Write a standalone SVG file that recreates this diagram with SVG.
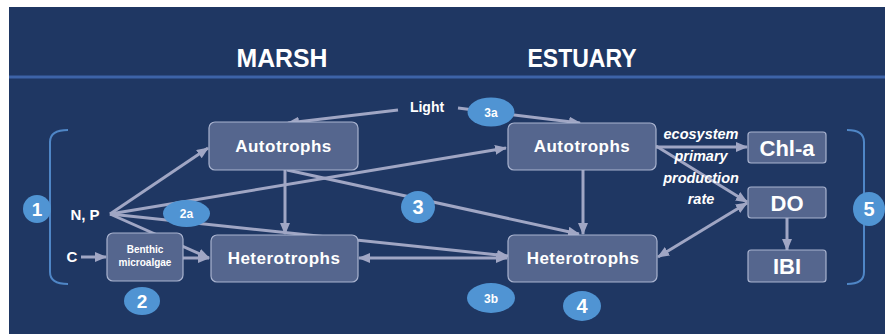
<svg xmlns="http://www.w3.org/2000/svg" width="885" height="334" viewBox="0 0 885 334">
<defs>
<style>
.bg{fill:#1f3763}
.box{fill:#55668e;stroke:#a9b3cf;stroke-width:1.2}
.lbl{font-family:"Liberation Sans",Arial,sans-serif;font-weight:bold;fill:#ffffff;text-anchor:middle}
.bt{font-size:17px;letter-spacing:0.5px}
.it{font-family:"Liberation Sans",Arial,sans-serif;font-weight:bold;font-style:italic;font-size:14.5px;fill:#ffffff;text-anchor:middle}
.num{fill:#5094d3}
.con line{stroke:#a0a6c4;stroke-width:3;fill:none;marker-end:url(#ah)}
.con line.dbl{marker-start:url(#ah)}
.br{fill:none;stroke:#4f86c6;stroke-width:2}
</style>
<marker id="ah" markerUnits="userSpaceOnUse" markerWidth="12" markerHeight="10" refX="11" refY="5" orient="auto-start-reverse">
<path d="M0,0 L12,5 L0,10 z" fill="#a0a6c4"/>
</marker>
</defs>
<rect x="0" y="0" width="885" height="334" fill="#ffffff"/>
<rect class="bg" x="9" y="7" width="876" height="327"/>
<rect x="9" y="75.5" width="876" height="3" fill="#3d63a8"/>
<text class="lbl" x="282" y="67" font-size="25" textLength="91" lengthAdjust="spacingAndGlyphs">MARSH</text>
<text class="lbl" x="582" y="67" font-size="25" textLength="109" lengthAdjust="spacingAndGlyphs">ESTUARY</text>

<path class="br" d="M68,130 Q50,130 50,142 V272 Q50,284 68,284"/>
<path class="br" d="M847,130 Q864,130 864,142 V272 Q864,284 847,284"/>

<g class="con" id="connectors">
<line x1="398" y1="110" x2="288" y2="123"/>
<line x1="458" y1="108" x2="580" y2="123"/>
<line x1="110" y1="214" x2="208" y2="148"/>
<line x1="110" y1="214" x2="506" y2="148"/>
<line x1="110" y1="214" x2="508" y2="256"/>
<line x1="110" y1="214" x2="209" y2="258"/>
<line x1="81" y1="257" x2="106" y2="257"/>
<line x1="183" y1="258" x2="209" y2="258"/>
<line x1="285" y1="170" x2="285" y2="234"/>
<line x1="287" y1="170" x2="579" y2="234"/>
<line class="dbl" x1="359" y1="258" x2="507" y2="258"/>
<line x1="583" y1="170" x2="583" y2="234"/>
<line x1="656" y1="147" x2="747" y2="147"/>
<line x1="656" y1="146" x2="747" y2="202"/>
<line class="dbl" x1="658" y1="257" x2="747" y2="203"/>
<line x1="787" y1="218" x2="787" y2="250"/>
</g>

<g id="light"><text class="lbl" x="427" y="112" font-size="14">Light</text></g>
<g id="np"><text class="lbl" x="85" y="220" font-size="15">N, P</text></g>
<g id="c"><text class="lbl" x="72" y="262" font-size="15">C</text></g>

<g id="benthic">
<rect class="box" x="107" y="233" width="76" height="48" rx="6"/>
<text class="lbl" x="145" y="253" font-size="10">Benthic</text>
<text class="lbl" x="145" y="266" font-size="10">microalgae</text>
</g>
<g id="marsh-auto">
<rect class="box" x="209" y="122" width="149" height="48" rx="6"/>
<text class="lbl bt" x="283.5" y="152">Autotrophs</text>
</g>
<g id="marsh-hetero">
<rect class="box" x="211" y="235" width="147" height="47" rx="6"/>
<text class="lbl bt" x="284" y="264">Heterotrophs</text>
</g>
<g id="est-auto">
<rect class="box" x="508" y="123" width="148" height="47" rx="6"/>
<text class="lbl bt" x="582" y="152">Autotrophs</text>
</g>
<g id="est-hetero">
<rect class="box" x="508" y="235" width="149" height="47" rx="6"/>
<text class="lbl bt" x="583" y="264">Heterotrophs</text>
</g>
<g id="chla">
<rect class="box" x="748" y="132" width="78" height="31" rx="3"/>
<text class="lbl" x="787" y="155.5" font-size="22">Chl-a</text>
</g>
<g id="do">
<rect class="box" x="748" y="187" width="78" height="31" rx="3"/>
<text class="lbl" x="787" y="210.5" font-size="22">DO</text>
</g>
<g id="ibi">
<rect class="box" x="748" y="250" width="78" height="32" rx="3"/>
<text class="lbl" x="787" y="274" font-size="22">IBI</text>
</g>

<g id="rate-label">
<text class="it" x="701" y="139">ecosystem</text>
<text class="it" x="701" y="161">primary</text>
<text class="it" x="701" y="183">production</text>
<text class="it" x="701" y="204">rate</text>
</g>

<g id="n1"><circle class="num" cx="37" cy="209" r="14"/><text class="lbl" x="37" y="216" font-size="19">1</text></g>
<g id="n2"><ellipse class="num" cx="142" cy="301" rx="18" ry="14"/><text class="lbl" x="142" y="308" font-size="19">2</text></g>
<g id="n2a"><ellipse class="num" cx="186.5" cy="213.5" rx="23.5" ry="13.5"/><text class="lbl" x="186.5" y="218" font-size="12">2a</text></g>
<g id="n3"><ellipse class="num" cx="418" cy="207" rx="17" ry="16"/><text class="lbl" x="418" y="214" font-size="20">3</text></g>
<g id="n3a"><ellipse class="num" cx="491" cy="112" rx="23.5" ry="14.5"/><text class="lbl" x="491" y="116.5" font-size="12">3a</text></g>
<g id="n3b"><ellipse class="num" cx="491" cy="298" rx="24" ry="15"/><text class="lbl" x="491" y="302.5" font-size="12">3b</text></g>
<g id="n4"><ellipse class="num" cx="582" cy="306" rx="19" ry="15"/><text class="lbl" x="582" y="313" font-size="20">4</text></g>
<g id="n5"><ellipse class="num" cx="869" cy="209" rx="16" ry="17"/><text class="lbl" x="869" y="216" font-size="20">5</text></g>
</svg>
